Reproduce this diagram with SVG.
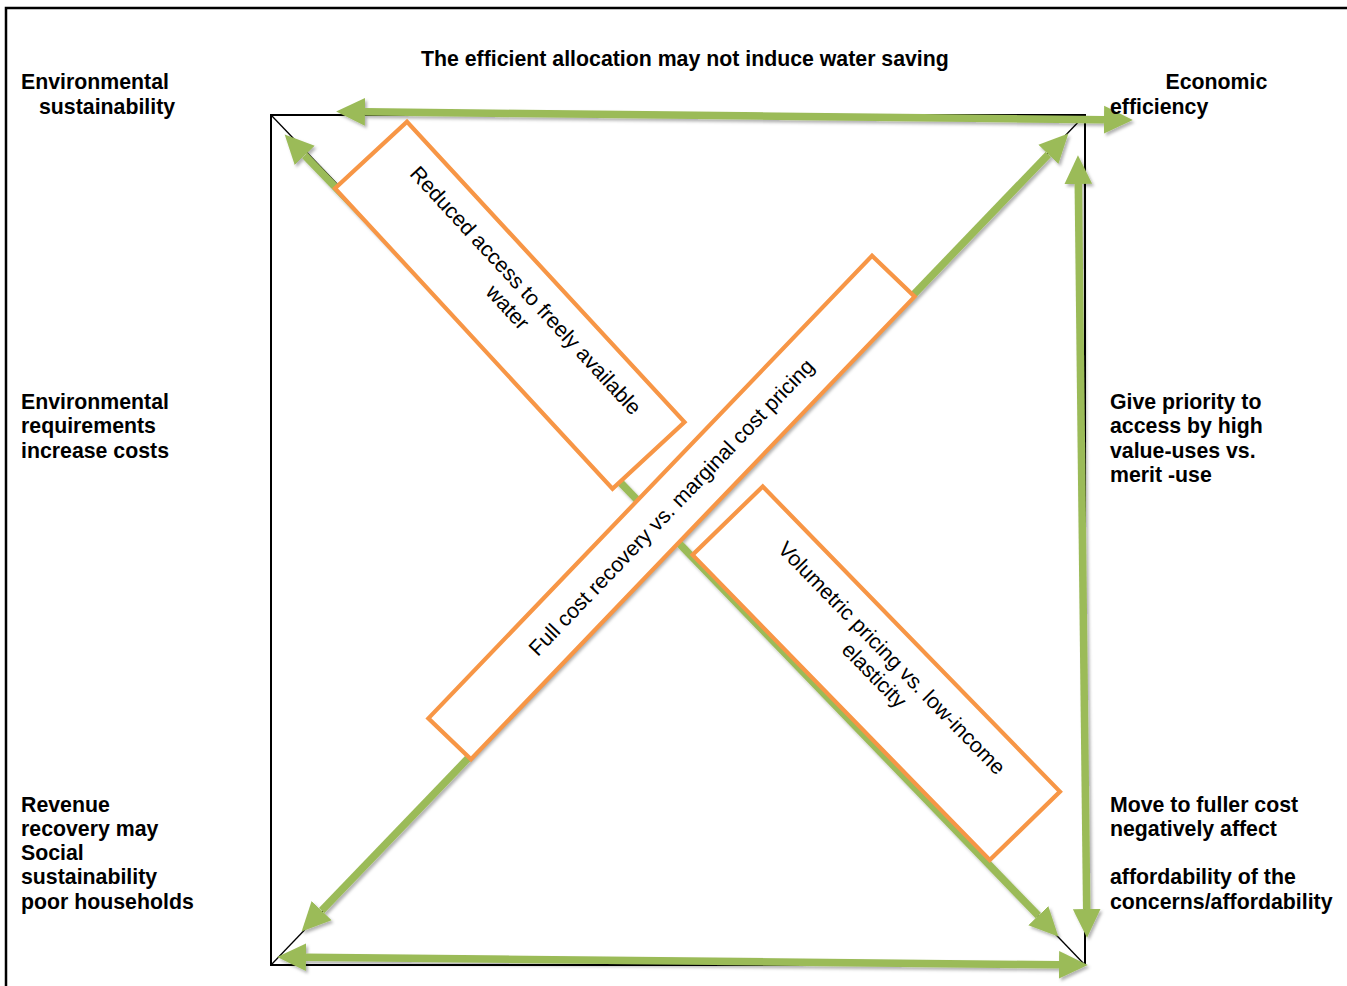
<svg xmlns="http://www.w3.org/2000/svg" width="1347" height="986" viewBox="0 0 1347 986">
<defs>
<style>
.lbl{font-family:"Liberation Sans",Arial,sans-serif;font-weight:bold;font-size:21.3px;fill:#000}
.box{fill:#fff;stroke:#F79646;stroke-width:4.2}
.btx{font-family:"Liberation Sans",Arial,sans-serif;font-size:21.3px;fill:#000;text-anchor:middle}
.arr{stroke:#9BBB59;stroke-width:7.5;fill:none;marker-start:url(#ah);marker-end:url(#ah)}
.blk{stroke:#000;fill:none}
</style>
<marker id="ah" markerUnits="userSpaceOnUse" markerWidth="30" markerHeight="30" refX="0" refY="12" orient="auto-start-reverse" viewBox="0 0 26 24">
<path d="M0,0 L25,12 L0,24 z" fill="#9BBB59"/>
</marker>
<filter id="sh" x="-5%" y="-5%" width="110%" height="110%">
<feDropShadow dx="2" dy="2.5" stdDeviation="1.5" flood-color="#000" flood-opacity="0.3"/>
</filter>
</defs>
<rect x="0" y="0" width="1347" height="986" fill="#fff"/>
<path class="blk" d="M6,986 L6,8 L1347,8" stroke-width="2.5"/>
<g id="frame">
<rect class="blk" x="271" y="115" width="814" height="850" stroke-width="2"/>
<line class="blk" x1="271" y1="115" x2="1085" y2="965" stroke-width="1.3"/>
<line class="blk" x1="1085" y1="115" x2="271" y2="965" stroke-width="1.3"/>
</g>
<g id="connectors" filter="url(#sh)">
<line class="arr" x1="365" y1="111.8" x2="1104" y2="119.7"/>
<line class="arr" x1="304.7" y1="155.3" x2="1038.3" y2="915.7"/>
<line class="arr" x1="321.6" y1="910.7" x2="1048.4" y2="154.3"/>
<line class="arr" x1="1078.3" y1="184" x2="1086.7" y2="909"/>
<line class="arr" x1="306" y1="957.2" x2="1059" y2="964.8"/>
</g>
<g id="box-reduced-access" transform="translate(509.75,305.25) rotate(47.27)">
<rect class="box" x="-204.5" y="-49" width="409" height="98"/>
<text class="btx" x="0" y="-14.5">Reduced access to freely available</text>
<text class="btx" x="0" y="10">water</text>
</g>
<g id="box-full-cost" transform="translate(671.5,507.5) rotate(-46.2)">
<rect class="box" x="-320.5" y="-29.5" width="641" height="59"/>
<text class="btx" x="0" y="7">Full cost recovery vs. marginal cost pricing</text>
</g>
<g id="box-volumetric" transform="translate(876.25,673.25) rotate(45.76)">
<rect class="box" x="-213" y="-49" width="426" height="98"/>
<text class="btx" x="0" y="-14.5">Volumetric pricing vs. low-income</text>
<text class="btx" x="0" y="10">elasticity</text>
</g>
<g id="title">
<text class="lbl" x="421" y="65.5">The efficient allocation may not induce water saving</text>
</g>
<g id="env-sustainability">
<text class="lbl" x="21" y="89">Environmental</text>
<text class="lbl" x="39" y="113.5">sustainability</text>
</g>
<g id="econ-efficiency">
<text class="lbl" x="1165.5" y="89">Economic</text>
<text class="lbl" x="1110" y="113.5">efficiency</text>
</g>
<g id="env-requirements">
<text class="lbl" x="21" y="408.5">Environmental</text>
<text class="lbl" x="21" y="433">requirements</text>
<text class="lbl" x="21" y="457.5">increase costs</text>
</g>
<g id="priority">
<text class="lbl" x="1110" y="408.5">Give priority to</text>
<text class="lbl" x="1110" y="433">access by high</text>
<text class="lbl" x="1110" y="457.5">value-uses vs.</text>
<text class="lbl" x="1110" y="482">merit -use</text>
</g>
<g id="social">
<text class="lbl" x="21" y="811.5">Revenue</text>
<text class="lbl" x="21" y="835.8">recovery may</text>
<text class="lbl" x="21" y="860.1">Social</text>
<text class="lbl" x="21" y="884.4">sustainability</text>
<text class="lbl" x="21" y="908.7">poor households</text>
</g>
<g id="fuller-cost">
<text class="lbl" x="1110" y="811.5">Move to fuller cost</text>
<text class="lbl" x="1110" y="835.8">negatively affect</text>
<text class="lbl" x="1110" y="884.4">affordability of the</text>
<text class="lbl" x="1110" y="908.7">concerns/affordability</text>
</g>
</svg>
